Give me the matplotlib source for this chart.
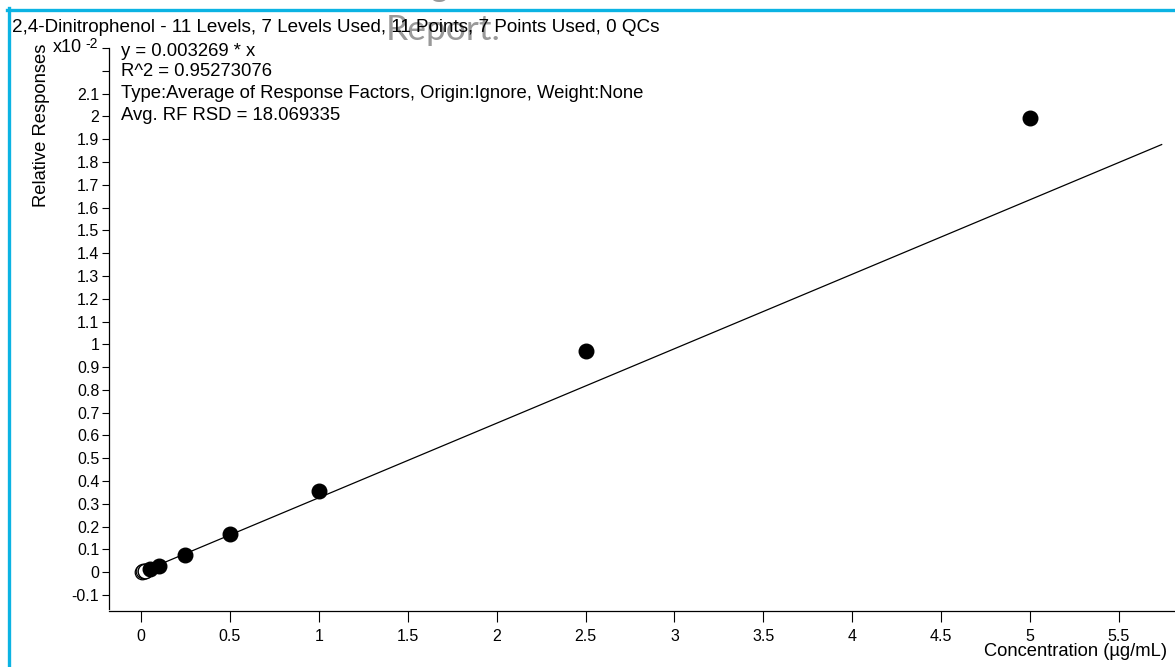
import matplotlib
matplotlib.use('Agg')
import matplotlib.pyplot as plt
import numpy as np

plt.rcParams['font.family'] = ['Liberation Sans', 'DejaVu Sans']

# calibration points (y shown in units of x10^-2)
used_conc = [0.05, 0.1, 0.25, 0.5, 1.0, 2.5, 5.0]
used_resp = [0.013, 0.027, 0.075, 0.168, 0.357, 0.972, 1.995]
excl_conc = [0.005, 0.01, 0.02, 0.025]
excl_resp = [0.003, 0.004, 0.006, 0.007]

slope = 0.003269
fit_x = [0.0, 5.74]

title = "2,4-Dinitrophenol - 11 Levels, 7 Levels Used, 11 Points, 7 Points Used, 0 QCs"
info_lines = ["y = 0.003269 * x",
              "R^2 = 0.95273076",
              "Type:Average of Response Factors, Origin:Ignore, Weight:None",
              "Avg. RF RSD = 18.069335"]

W, H = 1175, 667
fig = plt.figure(figsize=(W / 100, H / 100), dpi=100)

def fx(px):
    return px / W

def fy(py):
    return 1 - py / H

# page frame (cyan) and text bleeding in from the page above
cyan = '#0BB3E3'
fig.add_artist(plt.Line2D([fx(7), 1], [fy(9.5), fy(9.5)], color=cyan, lw=2.4))
fig.add_artist(plt.Line2D([fx(8.5), fx(8.5)], [fy(8), 0], color=cyan, lw=2.4))
fig.text(fx(440), fy(-4), "g", fontsize=24, color='#999999', ha='center',
         va='baseline', family='Lato')
fig.text(fx(386), fy(40), "Report.", fontsize=25.5, color='#999999', ha='left',
         va='baseline', family='Lato', zorder=0)

ax = fig.add_axes([fx(109), fy(611), fx(1175 - 109), (611 - 48) / H])
ax.set_xlim(-0.18, 5.815)
ax.set_ylim(-0.17, 2.3)

ax.plot(fit_x, [slope * 100 * v for v in fit_x], color='black', lw=0.9, zorder=2)
ax.scatter(excl_conc, excl_resp, s=110, facecolors='white', edgecolors='black',
           linewidths=0.9, zorder=3)
ax.scatter(used_conc, used_resp, s=110, color='black', zorder=4)

for s in ['top', 'right']:
    ax.spines[s].set_visible(False)
ax.spines['left'].set_bounds(-0.16, 2.3)
ax.spines['left'].set_linewidth(0.9)
ax.spines['bottom'].set_linewidth(0.9)

yt = np.round(np.arange(-0.1, 2.31, 0.1), 1)
ax.set_yticks(yt)
ax.set_yticklabels([f'{v:g}' if v <= 2.1 else '' for v in yt])
xt = np.arange(0, 5.51, 0.5)
ax.set_xticks(xt)
ax.set_xticklabels([f'{v:g}' for v in xt])
ax.tick_params(axis='y', length=5, width=0.8, labelsize=11.5, pad=2)
ax.tick_params(axis='x', length=8, width=0.8, labelsize=11.5, pad=5)

fig.text(fx(12), fy(28), title, fontsize=13.6, va='center', ha='left')
for i, (line, py) in enumerate(zip(info_lines, [52, 71, 93, 115])):
    fig.text(fx(121), fy(py), line, fontsize=13.3, va='center', ha='left')

fig.text(fx(42), fy(125), "Relative Responses", fontsize=13.2, rotation=90,
         va='center', ha='center')
fig.text(fx(82), fy(48), "x10", fontsize=13, va='center', ha='right')
fig.text(fx(85), fy(44), "-2", fontsize=10, va='center', ha='left')
fig.text(fx(1167), fy(652), "Concentration (µg/mL)", fontsize=13.2,
         va='center', ha='right')

fig.savefig('out.png', dpi=100)
